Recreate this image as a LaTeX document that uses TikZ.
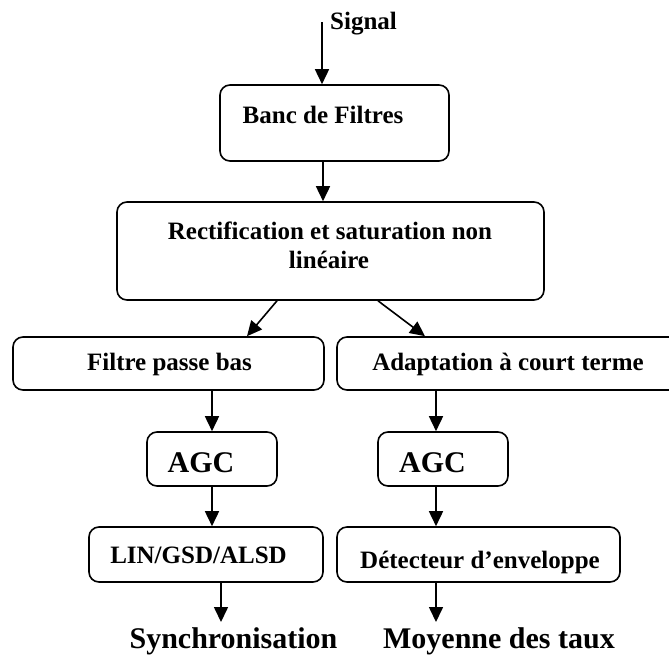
\documentclass[tikz,border=0pt]{standalone}
\usepackage{fontspec}
\setmainfont{Liberation Serif}
\usetikzlibrary{arrows.meta}
\begin{document}
\begin{tikzpicture}[x=1pt,y=-1pt,
  box/.style={draw, line width=1.6pt, rounded corners=10pt, inner sep=0pt},
  arr/.style={line width=1.6pt, -{Triangle[length=15pt,width=14pt]}},
  txt/.style={font=\bfseries\fontsize{25}{29}\selectfont, inner sep=0pt, anchor=base},
  bigtxt/.style={font=\bfseries\fontsize{30}{36}\selectfont, inner sep=0pt, anchor=base}]
\useasboundingbox (0,0) rectangle (669,654);
\clip (0,0) rectangle (669,654);
% boxes
\node[box, minimum width=229pt, minimum height=76pt] (banc) at (334.5,123) {};
\node[box, minimum width=427pt, minimum height=98pt] (rect) at (330.5,251) {};
\node[box, minimum width=311pt, minimum height=53pt] (filtre) at (168.5,363.5) {};
\node[box, minimum width=343pt, minimum height=53pt] (adapt) at (508.5,363.5) {};
\node[box, minimum width=130pt, minimum height=54pt] (agcL) at (212,459) {};
\node[box, minimum width=130pt, minimum height=54pt] (agcR) at (443,459) {};
\node[box, minimum width=234pt, minimum height=55pt] (lin) at (206,554.5) {};
\node[box, minimum width=283pt, minimum height=55pt] (det) at (478.5,554.5) {};
% texts
\node[txt, anchor=base west] (signal) at (330,29) {Signal};
\node[txt] (bancT) at (323,123) {Banc de Filtres};
\node[txt] (rectT1) at (330,239) {Rectification et saturation non};
\node[txt] (rectT2) at (329,268) {linéaire};
\node[txt] (filtreT) at (169.5,370) {Filtre passe bas};
\node[txt] (adaptT) at (508,370) {Adaptation à court terme};
\node[bigtxt] (agcLT) at (201,472) {AGC};
\node[bigtxt] (agcRT) at (432.5,472) {AGC};
\node[txt] (linT) at (198.5,563) {LIN/GSD/ALSD};
\node[txt] (detT) at (480,568) {Détecteur d’enveloppe};
\node[bigtxt] (syncT) at (233.5,648) {Synchronisation};
\node[bigtxt] (moyT) at (499,648) {Moyenne des taux};
% connectors
\coordinate (sigin) at (322,22);
\draw[arr] (sigin) -- (sigin |- banc.north);
\path ([xshift=-11.5pt]banc.south) coordinate (bs);
\draw[arr] (bs) -- (bs |- rect.north);
\draw[arr] ([xshift=-53.5pt]rect.south) -- ([xshift=78.5pt]filtre.north);
\draw[arr] ([xshift=47.5pt]rect.south) -- ([xshift=-83.5pt]adapt.north);
\draw[arr] (agcL.north |- filtre.south) -- (agcL.north);
\draw[arr] (agcL.south) -- (agcL.south |- lin.north);
\coordinate (syncin) at (221,622);
\draw[arr] (syncin |- lin.south) -- (syncin);
\path ([xshift=-7pt]agcR.north) coordinate (aRn);
\path ([xshift=-7pt]agcR.south) coordinate (aRs);
\draw[arr] (aRn |- adapt.south) -- (aRn);
\draw[arr] (aRs) -- (aRs |- det.north);
\coordinate (moyin) at (436,622);
\draw[arr] (moyin |- det.south) -- (moyin);
\end{tikzpicture}
\end{document}
